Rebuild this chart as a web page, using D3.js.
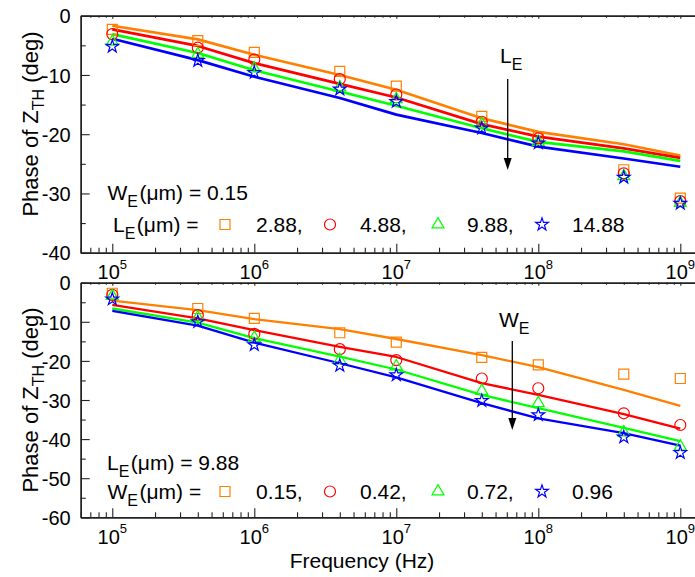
<!DOCTYPE html>
<html><head><meta charset="utf-8">
<script src="https://cdn.jsdelivr.net/npm/d3@7"></script>
<style>body{margin:0;background:#fff}svg{display:block}text{font-family:"Liberation Sans",Arial,sans-serif;fill:#000}</style>
</head><body>
<script>
// ---------------- data ----------------
const freqs = [1e5, 4e5, 1e6, 4e6, 1e7, 4e7, 1e8, 4e8, 1e9];
const xMajorTicks = [1e5, 1e6, 1e7, 1e8, 1e9];
const xTickExponents = ["5", "6", "7", "8", "9"];

// top panel: W_E = 0.15, L_E varies
const topLegendValues = ["2.88,", "4.88,", "9.88,", "14.88"];
const topMark_L288 = [-2.3, -4.2, -6.2, -9.4, -11.9, -17.0, -20.5, -26.0, -30.8];
const topMark_L488 = [-3.1, -5.4, -7.4, -10.7, -13.3, -17.9, -20.7, -26.6, -31.3];
const topMark_L988 = [-4.4, -6.5, -8.9, -12.1, -14.1, -18.3, -21.3, -27.1, -31.6];
const topMark_L1488 = [-5.2, -7.6, -9.6, -12.4, -14.5, -19.0, -21.5, -27.3, -31.7];
const topLine_L288 = [-1.7, -4.0, -6.6, -10.0, -12.5, -17.3, -19.6, -21.7, -23.6];
const topLine_L488 = [-2.3, -5.1, -8.0, -11.5, -13.8, -18.3, -20.4, -22.4, -24.0];
const topLine_L988 = [-3.1, -6.3, -9.2, -12.8, -15.2, -19.0, -21.3, -22.9, -24.5];
const topLine_L1488 = [-3.9, -7.5, -10.3, -13.9, -16.7, -19.8, -22.1, -24.1, -25.5];
const topYTicks = [0, -10, -20, -30, -40];

// bottom panel: L_E = 9.88, W_E varies
const botLegendValues = ["0.15,", "0.42,", "0.72,", "0.96"];
const botMark_W015 = [-2.7, -6.6, -9.1, -12.8, -15.2, -19.1, -21.0, -23.4, -24.5];
const botMark_W042 = [-3.1, -8.3, -13.1, -17.0, -19.8, -24.5, -27.0, -33.4, -36.4];
const botMark_W072 = [-3.4, -8.9, -14.1, -19.8, -21.4, -27.7, -30.8, -38.3, -41.9];
const botMark_W096 = [-4.2, -10.0, -15.9, -21.2, -23.6, -30.2, -33.8, -39.5, -43.5];
const botLine_W015 = [-4.6, -7.0, -9.3, -11.9, -14.4, -18.5, -21.6, -27.4, -31.5];
const botLine_W042 = [-5.7, -9.1, -12.1, -16.4, -19.0, -25.7, -28.7, -33.6, -37.3];
const botLine_W072 = [-6.6, -10.2, -14.2, -18.9, -22.2, -28.7, -32.1, -37.1, -40.5];
const botLine_W096 = [-7.2, -11.0, -15.3, -20.6, -24.2, -30.8, -34.7, -38.5, -41.7];
const botYTicks = [0, -10, -20, -30, -40, -50, -60];

const seriesColors = ["#FF8000", "#FF0000", "#00FF00", "#0000FF"];
const symbolTypes = [d3.symbolSquare, d3.symbolCircle, d3.symbolTriangle, d3.symbolStar];
const symbolSizes = [100, 95, 62, 50];

// ---------------- layout ----------------
const W = 695, H = 577;
const svg = d3.select("body").append("svg").attr("width", W).attr("height", H);
const FONT = '"Liberation Sans", Arial, sans-serif';
const x = d3.scaleLog().domain([Math.pow(10, 4.7775), Math.pow(10, 9.25)]).range([80.7, 715.8]);
const xMinorTicks = [];
for (let e = 4; e <= 9; e++) for (let m = 2; m <= 9; m++) {
  const v = m * Math.pow(10, e);
  if (v > x.domain()[0] && v < x.domain()[1]) xMinorTicks.push(v);
}

const panels = [
  { top: 15.7, bottom: 252.7, ymin: -40, yTicks: topYTicks,
    marks: [topMark_L288, topMark_L488, topMark_L988, topMark_L1488],
    lines: [topLine_L288, topLine_L488, topLine_L988, topLine_L1488], lw: 2.7,
    legend: { r1: ["W", "E", "(\u03BCm) = 0.15"], r1x: 107.5, r1y: 200, r2: ["L", "E", "(\u03BCm) ="], r2x: 113, r2y: 232, vals: topLegendValues },
    ann: { t: ["L", "E"], tx: 500, ty: 63, ax: 507.7, ay1: 79, ay2: 170 },
    title: 124 },
  { top: 282.7, bottom: 517.3, ymin: -60, yTicks: botYTicks,
    marks: [botMark_W015, botMark_W042, botMark_W072, botMark_W096],
    lines: [botLine_W015, botLine_W042, botLine_W072, botLine_W096], lw: 2.3,
    legend: { r1: ["L", "E", "(\u03BCm) = 9.88"], r1x: 107, r1y: 470, r2: ["W", "E", "(\u03BCm) ="], r2x: 107.5, r2y: 499, vals: botLegendValues },
    ann: { t: ["W", "E"], tx: 499, ty: 327, ax: 512.3, ay1: 341, ay2: 430 },
    title: 400 }
];

function subText(g, parts, tx, ty, size, anchor) {
  const t = g.append("text").attr("x", tx).attr("y", ty).attr("font-size", size).attr("text-anchor", anchor || "start");
  t.append("tspan").text(parts[0]);
  t.append("tspan").attr("font-size", size * 0.76).attr("dy", size * 0.34).text(parts[1]);
  if (parts[2]) t.append("tspan").attr("dy", -size * 0.34).attr("dx", 1.5).text(parts[2]);
  return t;
}

panels.forEach((p, pi) => {
  const y = d3.scaleLinear().domain([p.ymin, 0]).range([p.bottom, p.top]);
  const g = svg.append("g");
  const clipId = "clip" + pi;
  svg.append("clipPath").attr("id", clipId).append("rect")
    .attr("x", x.range()[0]).attr("y", p.top).attr("width", W).attr("height", p.bottom - p.top);

  // axes: bottom
  g.append("g").attr("transform", `translate(0,${p.bottom})`)
    .call(d3.axisBottom(x).tickValues(xMajorTicks).tickSize(-9).tickSizeOuter(0).tickFormat(""));
  g.append("g").attr("transform", `translate(0,${p.bottom})`)
    .call(d3.axisBottom(x).tickValues(xMinorTicks).tickSize(-5).tickSizeOuter(0).tickFormat(""));
  // top frame with tiny ticks
  g.append("g").attr("transform", `translate(0,${p.top})`)
    .call(d3.axisTop(x).tickValues(xMajorTicks).tickSize(-3).tickSizeOuter(0).tickFormat(""));
  g.append("g").attr("transform", `translate(0,${p.top})`)
    .call(d3.axisTop(x).tickValues(xMinorTicks).tickSize(-2).tickSizeOuter(0).tickFormat(""));
  // left
  const yMinor = d3.range(p.ymin + 5, 0, 10);
  g.append("g").attr("transform", `translate(${x.range()[0]},0)`)
    .call(d3.axisLeft(y).tickValues(p.yTicks).tickSize(-9).tickSizeOuter(0).tickPadding(10).tickFormat(d => d === 0 ? "0" : "-" + Math.abs(d)))
    .call(a => a.selectAll("text").attr("font-size", 20).attr("font-family", FONT).attr("fill", "#000").attr("dy", "0.36em"));
  g.append("g").attr("transform", `translate(${x.range()[0]},0)`)
    .call(d3.axisLeft(y).tickValues(yMinor).tickSize(-5).tickSizeOuter(0).tickFormat(""));
  g.selectAll(".domain").attr("stroke", "#222").attr("stroke-width", 1.4);
  g.selectAll(".tick line").attr("stroke", "#222").attr("stroke-width", 1.1);

  // x tick labels with superscripts
  xMajorTicks.forEach((v, i) => {
    const t = g.append("text").attr("x", x(v)).attr("y", p.bottom + 26.5).attr("font-size", 20).attr("text-anchor", "middle");
    t.append("tspan").text("10");
    t.append("tspan").attr("font-size", 13).attr("dy", -10.5).text(xTickExponents[i]);
  });

  // curves
  const line = d3.line().x(d => x(d[0])).y(d => y(d[1]));
  const plot = g.append("g").attr("clip-path", `url(#${clipId})`);
  p.lines.forEach((vals, si) => {
    plot.append("path").datum(freqs.map((f, k) => [f, vals[k]]))
      .attr("d", line).attr("fill", "none").attr("stroke", seriesColors[si]).attr("stroke-width", p.lw)
      .attr("stroke-linejoin", "round");
  });
  p.marks.forEach((vals, si) => {
    const sym = d3.symbol().type(symbolTypes[si]).size(symbolSizes[si]);
    plot.selectAll(null).data(freqs.map((f, k) => [f, vals[k]])).enter().append("path")
      .attr("d", sym).attr("transform", d => `translate(${x(d[0])},${y(d[1])})`)
      .attr("fill", "none").attr("stroke", seriesColors[si]).attr("stroke-width", 1.2);
  });

  // legend
  const L = p.legend;
  subText(g, L.r1, L.r1x, L.r1y, 21);
  subText(g, L.r2, L.r2x, L.r2y, 21);
  const symX = [225, 330, 438, 542];
  const valX = [256, 360, 467, 572];
  L.vals.forEach((v, si) => {
    g.append("path").attr("d", d3.symbol().type(symbolTypes[si]).size(symbolSizes[si])())
      .attr("transform", `translate(${symX[si]},${L.r2y - 7.5})`)
      .attr("fill", "none").attr("stroke", seriesColors[si]).attr("stroke-width", 1.2);
    g.append("text").attr("x", valX[si]).attr("y", L.r2y).attr("font-size", 21).text(v);
  });

  // annotation with arrow
  const A = p.ann;
  subText(g, A.t, A.tx, A.ty, 21);
  g.append("line").attr("x1", A.ax).attr("x2", A.ax).attr("y1", A.ay1).attr("y2", A.ay2 - 8)
    .attr("stroke", "#000").attr("stroke-width", 1.3);
  g.append("path").attr("d", `M${A.ax - 4},${A.ay2 - 12}L${A.ax + 4},${A.ay2 - 12}L${A.ax},${A.ay2}Z`).attr("fill", "#000");

  // y title
  const tt = g.append("text").attr("transform", `translate(38,${p.title}) rotate(-90)`)
    .attr("font-size", 22).attr("text-anchor", "middle");
  tt.append("tspan").text("Phase of Z");
  tt.append("tspan").attr("font-size", 16).attr("dy", 6).text("TH");
  tt.append("tspan").attr("dy", -6).text(" (deg)");
});

svg.append("text").attr("x", 362).attr("y", 568).attr("font-size", 21).attr("text-anchor", "middle").text("Frequency (Hz)");
</script>
</body></html>
